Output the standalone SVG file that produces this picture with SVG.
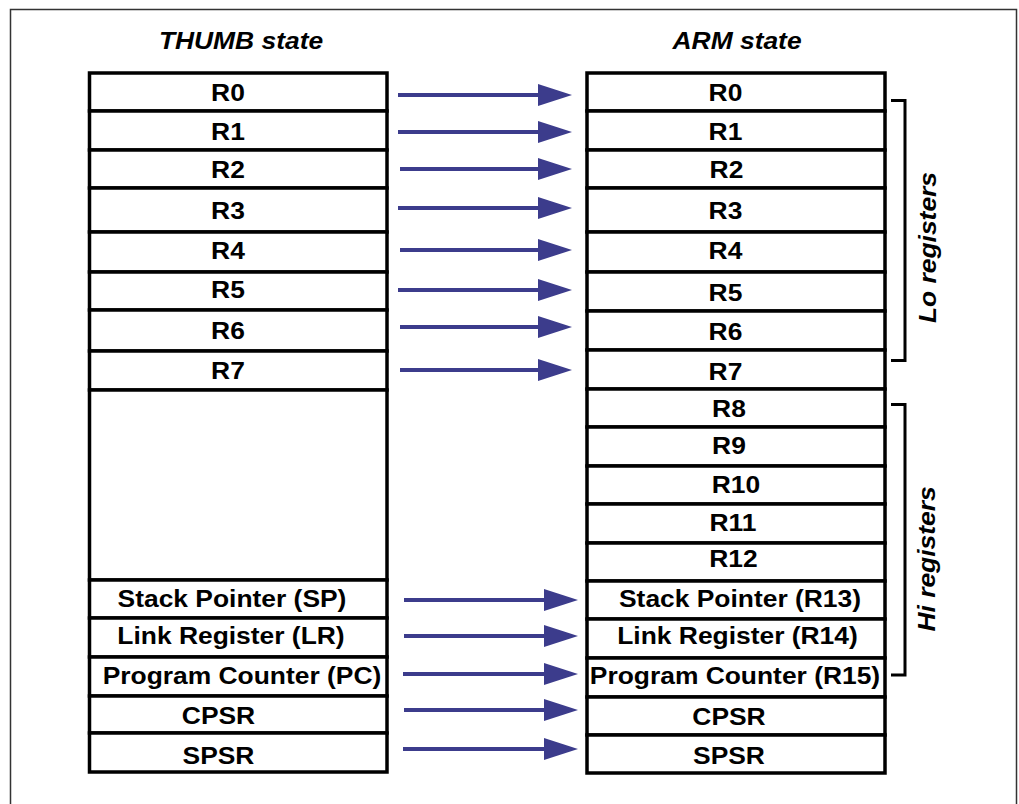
<svg xmlns="http://www.w3.org/2000/svg" width="1019" height="804" viewBox="0 0 1019 804">
<style>
.bg{fill:#fff}
.frame{fill:none;stroke:#333;stroke-width:1.5}
.cell{fill:#fff;stroke:#000;stroke-width:3.5}
.t{font-family:"Liberation Sans",Arial,sans-serif;font-weight:bold;font-size:24px;fill:#000;text-anchor:middle;transform-box:fill-box;transform-origin:center;transform:scaleX(1.1)}
.it{font-style:italic}
.arr{stroke:#3c3c8c;stroke-width:4;fill:none}
.br{fill:none;stroke:#000;stroke-width:3}
</style>
<defs>
<marker id="ah" markerUnits="userSpaceOnUse" markerWidth="34" markerHeight="22" refX="1" refY="11" orient="auto">
<path d="M0,0 L34,11 L0,22 Z" fill="#3c3c8c"/>
</marker>
</defs>
<rect class="bg" x="0" y="0" width="1019" height="804"/>
<path class="frame" d="M10.5,804 V9.5 H1016.5 V804"/>

<text class="t it" x="241" y="49">THUMB state</text>
<text class="t it" x="737" y="49">ARM state</text>

<g id="thumb">
<g id="t-r0"><rect class="cell" x="89.5" y="73" width="297.5" height="38"/><text class="t" x="228" y="101.5">R0</text></g>
<g id="t-r1"><rect class="cell" x="89.5" y="111" width="297.5" height="39"/><text class="t" x="228" y="140.5">R1</text></g>
<g id="t-r2"><rect class="cell" x="89.5" y="150" width="297.5" height="38"/><text class="t" x="228" y="178.5">R2</text></g>
<g id="t-r3"><rect class="cell" x="89.5" y="188" width="297.5" height="44"/><text class="t" x="228" y="219.5">R3</text></g>
<g id="t-r4"><rect class="cell" x="89.5" y="232" width="297.5" height="40"/><text class="t" x="228" y="259.5">R4</text></g>
<g id="t-r5"><rect class="cell" x="89.5" y="272" width="297.5" height="38"/><text class="t" x="228" y="298.5">R5</text></g>
<g id="t-r6"><rect class="cell" x="89.5" y="310" width="297.5" height="41"/><text class="t" x="228" y="339.5">R6</text></g>
<g id="t-r7"><rect class="cell" x="89.5" y="351" width="297.5" height="39"/><text class="t" x="228" y="379.5">R7</text></g>
<g id="t-empty"><rect class="cell" x="89.5" y="390" width="297.5" height="190"/></g>
<g id="t-sp"><rect class="cell" x="89.5" y="580" width="297.5" height="38"/><text class="t" x="232" y="607.5">Stack Pointer (SP)</text></g>
<g id="t-lr"><rect class="cell" x="89.5" y="618" width="297.5" height="39"/><text class="t" x="231" y="644.5">Link Register (LR)</text></g>
<g id="t-pc"><rect class="cell" x="89.5" y="657" width="297.5" height="39"/><text class="t" x="242" y="684.5">Program Counter (PC)</text></g>
<g id="t-cpsr"><rect class="cell" x="89.5" y="696" width="297.5" height="37"/><text class="t" x="218.5" y="724.5">CPSR</text></g>
<g id="t-spsr"><rect class="cell" x="89.5" y="733" width="297.5" height="39"/><text class="t" x="218.5" y="764.5">SPSR</text></g>
</g>

<g id="arm">
<g id="a-r0"><rect class="cell" x="587" y="73" width="298" height="38"/><text class="t" x="725.5" y="101.5">R0</text></g>
<g id="a-r1"><rect class="cell" x="587" y="111" width="298" height="39"/><text class="t" x="725.5" y="140.5">R1</text></g>
<g id="a-r2"><rect class="cell" x="587" y="150" width="298" height="38"/><text class="t" x="726.5" y="178.5">R2</text></g>
<g id="a-r3"><rect class="cell" x="587" y="188" width="298" height="44"/><text class="t" x="725.5" y="219.5">R3</text></g>
<g id="a-r4"><rect class="cell" x="587" y="232" width="298" height="40"/><text class="t" x="725.5" y="259.5">R4</text></g>
<g id="a-r5"><rect class="cell" x="587" y="272" width="298" height="39"/><text class="t" x="725.5" y="301.5">R5</text></g>
<g id="a-r6"><rect class="cell" x="587" y="311" width="298" height="39"/><text class="t" x="725.5" y="340.5">R6</text></g>
<g id="a-r7"><rect class="cell" x="587" y="350" width="298" height="39"/><text class="t" x="725.5" y="380.5">R7</text></g>
<g id="a-r8"><rect class="cell" x="587" y="389" width="298" height="38"/><text class="t" x="729" y="417.5">R8</text></g>
<g id="a-r9"><rect class="cell" x="587" y="427" width="298" height="39"/><text class="t" x="729" y="454.5">R9</text></g>
<g id="a-r10"><rect class="cell" x="587" y="466" width="298" height="38"/><text class="t" x="736" y="493.5">R10</text></g>
<g id="a-r11"><rect class="cell" x="587" y="504" width="298" height="39"/><text class="t" x="733" y="531.5">R11</text></g>
<g id="a-r12"><rect class="cell" x="587" y="543" width="298" height="38"/><text class="t" x="733.5" y="567.5">R12</text></g>
<g id="a-sp"><rect class="cell" x="587" y="581" width="298" height="38"/><text class="t" x="740" y="607.5">Stack Pointer (R13)</text></g>
<g id="a-lr"><rect class="cell" x="587" y="619" width="298" height="39"/><text class="t" x="737.5" y="644.5">Link Register (R14)</text></g>
<g id="a-pc"><rect class="cell" x="587" y="658" width="298" height="39"/><text class="t" x="735" y="684.5">Program Counter (R15)</text></g>
<g id="a-cpsr"><rect class="cell" x="587" y="697" width="298" height="38"/><text class="t" x="729" y="725.5">CPSR</text></g>
<g id="a-spsr"><rect class="cell" x="587" y="735" width="298" height="38"/><text class="t" x="729" y="764.5">SPSR</text></g>
</g>

<g id="connectors">
<line class="arr" x1="398" y1="95" x2="539" y2="95" marker-end="url(#ah)"/>
<line class="arr" x1="398" y1="132" x2="539" y2="132" marker-end="url(#ah)"/>
<line class="arr" x1="400" y1="169" x2="539" y2="169" marker-end="url(#ah)"/>
<line class="arr" x1="398" y1="208" x2="539" y2="208" marker-end="url(#ah)"/>
<line class="arr" x1="400" y1="250" x2="539" y2="250" marker-end="url(#ah)"/>
<line class="arr" x1="398" y1="290" x2="539" y2="290" marker-end="url(#ah)"/>
<line class="arr" x1="400" y1="327" x2="539" y2="327" marker-end="url(#ah)"/>
<line class="arr" x1="400" y1="370" x2="539" y2="370" marker-end="url(#ah)"/>
<line class="arr" x1="404" y1="600" x2="545" y2="600" marker-end="url(#ah)"/>
<line class="arr" x1="404" y1="636" x2="545" y2="636" marker-end="url(#ah)"/>
<line class="arr" x1="403" y1="674" x2="545" y2="674" marker-end="url(#ah)"/>
<line class="arr" x1="404" y1="710" x2="545" y2="710" marker-end="url(#ah)"/>
<line class="arr" x1="403" y1="749" x2="545" y2="749" marker-end="url(#ah)"/>
</g>

<g id="lo-registers">
<path class="br" d="M891,100.5 H905 V360.5 H891"/>
<g transform="translate(936,247.5) rotate(-90)"><text class="t it" x="0" y="0">Lo registers</text></g>
</g>
<g id="hi-registers">
<path class="br" d="M891,404.5 H905 V675 H891"/>
<g transform="translate(935,559) rotate(-90)"><text class="t it" x="0" y="0">Hi registers</text></g>
</g>
</svg>
